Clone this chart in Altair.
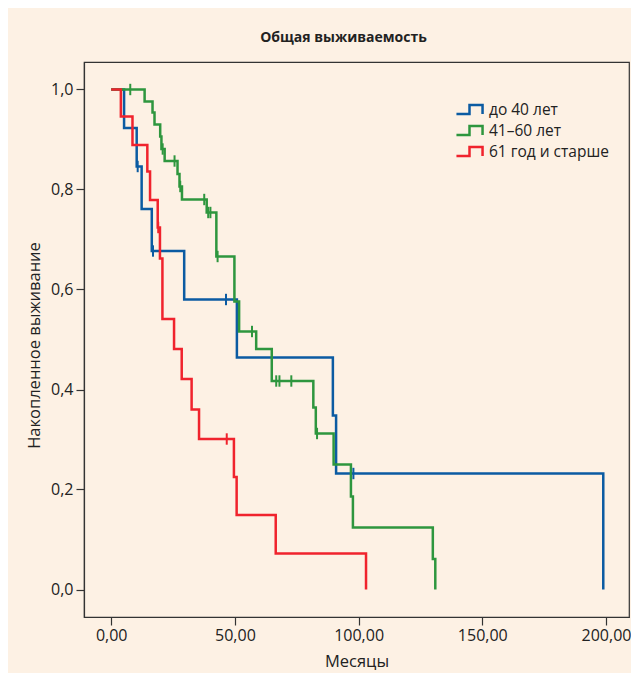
import altair as alt
import pandas as pd

# ---- data ----
series_names = ["до 40 лет", "41\u201360 лет", "61 год и старше"]

blue_t = [0, 5.2, 10.3, 12.3, 16.4, 29.5, 50.8, 89.6, 90.9, 198.9]
blue_s = [1.0, 0.923, 0.846, 0.761, 0.677, 0.580, 0.464, 0.348, 0.232, 0.0]
blue_cens_t = [10.7, 16.9, 46.4, 97.9]
blue_cens_s = [0.846, 0.677, 0.580, 0.232]

green_t = [0, 13.5, 16.7, 17.5, 19.8, 20.3, 21.6, 26.8, 27.6, 28.6, 38.6, 42.5,
           49.8, 51.7, 58.6, 64.9, 81.7, 82.7, 89.9, 96.9, 97.7, 130.0, 131.0]
green_s = [1.0, 0.976, 0.954, 0.930, 0.906, 0.881, 0.857, 0.831, 0.806, 0.780, 0.754, 0.666,
           0.576, 0.516, 0.481, 0.417, 0.364, 0.312, 0.250, 0.186, 0.124, 0.061, 0.0]
green_cens_t = [7.7, 20.8, 25.6, 27.9, 37.6, 39.2, 40.1, 43.0, 56.9, 66.7, 68.0, 72.8, 83.2]
green_cens_s = [1.0, 0.881, 0.857, 0.806, 0.780, 0.754, 0.754, 0.666, 0.516, 0.417, 0.417, 0.417, 0.312]

red_t = [0, 3.9, 8.6, 14.6, 15.7, 18.8, 19.7, 20.7, 25.4, 28.5, 32.5, 35.5, 49.6, 50.7, 66.5, 103.0]
red_s = [1.0, 0.946, 0.889, 0.836, 0.779, 0.724, 0.662, 0.541, 0.481, 0.421, 0.360, 0.301,
         0.225, 0.149, 0.072, 0.0]
red_cens_t = [19.0, 46.7]
red_cens_s = [0.724, 0.301]

colors = ["#0B5BA2", "#2E963E", "#F0232D"]

x_ticks = [0, 50, 100, 150, 200]
y_ticks = [0.0, 0.2, 0.4, 0.6, 0.8, 1.0]

# ---- tables ----
line_rows, cens_rows = [], []
for name, ts, ss, cts, css in [
    (series_names[0], blue_t, blue_s, blue_cens_t, blue_cens_s),
    (series_names[1], green_t, green_s, green_cens_t, green_cens_s),
    (series_names[2], red_t, red_s, red_cens_t, red_cens_s),
]:
    for i, (t, s) in enumerate(zip(ts, ss)):
        line_rows.append({"group": name, "t": t, "s": s, "i": i})
    for t, s in zip(cts, css):
        cens_rows.append({"group": name, "t": t, "s": s})
lines_df = pd.DataFrame(line_rows)
cens_df = pd.DataFrame(cens_rows)

FONT = "Open Sans"
xscale = alt.Scale(domain=[-11, 209.3], nice=False, zero=False)
yscale = alt.Scale(domain=[-0.055, 1.055], nice=False, zero=False)
cscale = alt.Scale(domain=series_names, range=colors)

x_enc = alt.X("t:Q", scale=xscale, title="Месяцы",
              axis=alt.Axis(values=x_ticks, grid=False,
                            labelExpr="replace(format(datum.value, '.2f'), '.', ',')"))
y_enc = alt.Y("s:Q", scale=yscale, title="Накопленное выживание",
              axis=alt.Axis(values=y_ticks, grid=False, titleY=283,
                            labelExpr="replace(format(datum.value, '.1f'), '.', ',')"))

legend_symbol = "M-1.45,0.5H0V-0.5H1.45V0.5"

lines = alt.Chart(lines_df).mark_line(interpolate="step-after", strokeWidth=2.5).encode(
    x=x_enc,
    y=y_enc,
    order="i:Q",
    color=alt.Color("group:N", scale=cscale, sort=series_names,
                    legend=alt.Legend(title=None, orient="none", legendX=375, legendY=37,
                                      symbolType=legend_symbol, symbolSize=324,
                                      symbolStrokeWidth=2.5, labelOffset=9,
                                      labelFontSize=15.5, labelFont=FONT, labelColor="#222",
                                      rowPadding=1, padding=0)),
)

cens = alt.Chart(cens_df).mark_point(shape="M0,-1V1", size=130, strokeWidth=2,
                                     filled=False, opacity=1).encode(
    x=alt.X("t:Q", scale=xscale),
    y=alt.Y("s:Q", scale=yscale),
    color=alt.Color("group:N", scale=cscale, legend=None),
)

chart = (lines + cens).properties(
    width=545, height=555,
    background="#FDF1E4",
    padding={"left": 76, "top": 54, "right": 2, "bottom": 56},
    autosize=alt.AutoSizeParams(type="none"),
    title=alt.TitleParams("Общая выживаемость", fontSize=14, fontWeight="bold",
                          font=FONT, color="#222", anchor="middle", dx=-13, offset=17),
).configure_view(
    stroke="#333", strokeWidth=1.2, fill="#FDF1E4"
).configure_axis(
    domainColor="#333", tickColor="#333", tickSize=8, domainWidth=1.2, tickWidth=1.2,
    labelFont=FONT, labelFontSize=16, labelColor="#222", labelPadding=3,
    titleFont=FONT, titleFontSize=16.5, titleColor="#222", titleFontWeight="normal",
).configure_axisY(titlePadding=8).configure_axisX(titlePadding=10, labelPadding=2)

chart.save("out.html", embed_options={"renderer": "svg", "actions": False})
